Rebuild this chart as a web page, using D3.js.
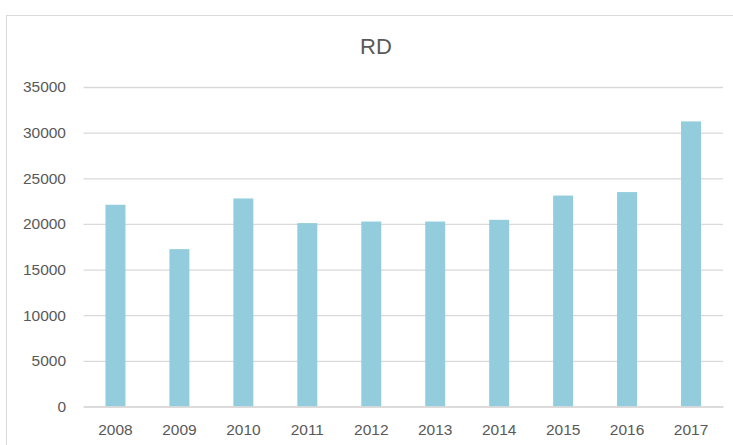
<!DOCTYPE html>
<html><head><meta charset="utf-8">
<script src="https://cdn.jsdelivr.net/npm/d3@7"></script>
<style>body{margin:0;background:#fff;} svg{display:block;}</style>
</head><body>
<script>
const title = "RD";
const years = ["2008","2009","2010","2011","2012","2013","2014","2015","2016","2017"];
const values = [22100, 17240, 22790, 20090, 20260, 20260, 20450, 23110, 23490, 31230];
const yTicks = [0, 5000, 10000, 15000, 20000, 25000, 30000, 35000];

const W = 733, H = 445;
const svg = d3.select("body").append("svg").attr("width", W).attr("height", H);
const font = "'Liberation Sans', Arial, sans-serif";
const textColor = "#595959";

svg.append("rect").attr("x", 6.5).attr("y", 15.5).attr("width", 900).attr("height", 600)
  .attr("fill", "#fff").attr("stroke", "#d9d9d9").attr("stroke-width", 1);

const x = d3.scaleBand().domain(years).range([83.5, 723]).paddingInner(0.6875).paddingOuter(0.34375);
const y = d3.scaleLinear().domain([0, 35000]).range([406.5, 87]);

svg.append("text").attr("x", 376).attr("y", 53.5).attr("text-anchor", "middle")
  .attr("font-family", font).attr("font-size", 22).attr("fill", textColor).text(title);

const yAxis = d3.axisLeft(y).tickValues(yTicks).tickSize(-(723 - 83.5)).tickPadding(17.5).tickFormat(d3.format("d"));
const gy = svg.append("g").attr("transform", "translate(83.5,0)").call(yAxis);
gy.select(".domain").remove();
gy.selectAll(".tick line").attr("stroke", "#d9d9d9").attr("stroke-width", 1.3);
gy.selectAll(".tick text").attr("font-family", font).attr("font-size", 15.5).attr("fill", textColor);

svg.append("g").selectAll("rect").data(years).join("rect")
  .attr("x", d => x(d)).attr("width", x.bandwidth())
  .attr("y", (d, i) => y(values[i])).attr("height", (d, i) => y(0) - y(values[i]))
  .attr("fill", "#93cddd");

const xAxis = d3.axisBottom(x).tickSize(0).tickPadding(17);
const gx = svg.append("g").attr("transform", "translate(0,406.5)").call(xAxis);
gx.select(".domain").attr("stroke", "#d9d9d9").attr("stroke-width", 1.3);
gx.selectAll(".tick text").attr("font-family", font).attr("font-size", 15.5).attr("fill", textColor);
</script>
</body></html>
